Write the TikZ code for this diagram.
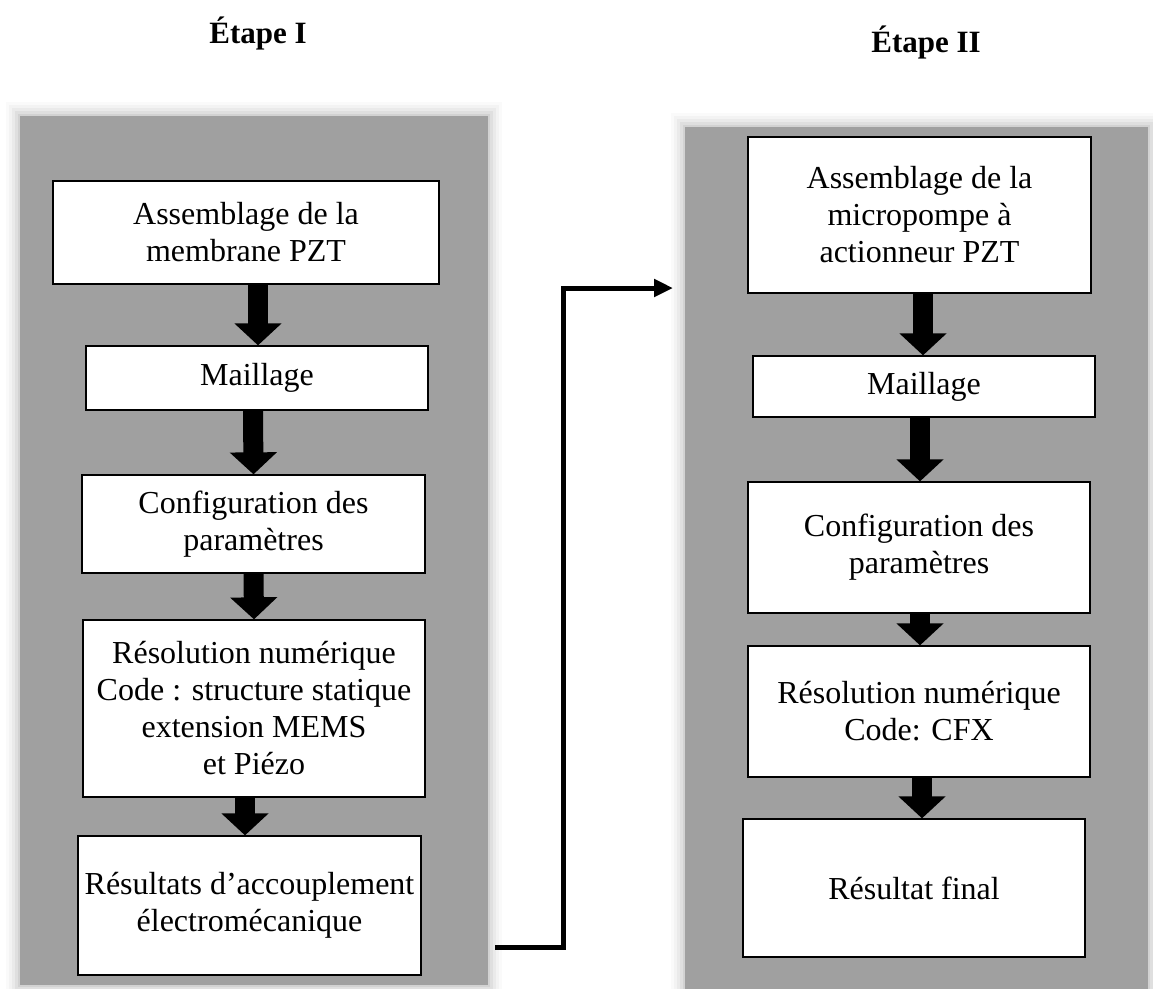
\documentclass[tikz,border=0pt]{standalone}
\usepackage{fontspec}
\setmainfont{Liberation Serif}
\usetikzlibrary{arrows.meta}
\definecolor{panelgray}{RGB}{160,160,160}
\tikzset{
  stepbox/.style={draw=black, line width=1.3pt, fill=white, inner sep=0pt,
    align=center, font=\fontsize{32}{37}\selectfont},
  flow/.style={draw=black, line width=20pt,
    -{Triangle[width=46pt,length=22pt]}},
  link/.style={draw=black, line width=5pt,
    -{Triangle[width=17pt,length=19pt]}},
  steptitle/.style={anchor=base, font=\bfseries\fontsize{31}{34}\selectfont},
}
% soft-edged grey panel: #1 = lower-left corner, #2 = upper-right corner
\newcommand{\softpanel}[2]{%
  \foreach \d/\o in {14/0.05,11/0.07,8/0.1,5/0.14,2/0.2}{
    \fill[panelgray, opacity=\o] ([shift={(-\d,\d)}]#1) rectangle ([shift={(\d,-\d)}]#2);
  }
  \fill[panelgray] (#1) rectangle (#2);
}
\begin{document}
\begin{tikzpicture}[x=1pt, y=-1pt]
  \useasboundingbox (0,0) rectangle (1153,988);
  \fill[white] (0,0) rectangle (1153,988);

  % panels
  \softpanel{20,985}{488,116}
  \softpanel{685,992}{1148,127}

  % titles
  \node[steptitle] (t1) at (258,43) {Étape I};
  \node[steptitle] (t2) at (926,52) {Étape II};

  % stage I
  \node[stepbox, minimum width=386pt, minimum height=103pt] (l1) at (246,232.5)
    {Assemblage de la\\membrane PZT};
  \node[stepbox, minimum width=342pt, minimum height=64pt] (l2) at (257,378)
    {Maillage};
  \node[stepbox, minimum width=343pt, minimum height=98pt] (l3) at (253.5,524)
    {Configuration des\\paramètres};
  \node[stepbox, minimum width=342pt, minimum height=177pt] (l4) at (254,708.5)
    {Résolution numérique\\Code : structure statique\\extension MEMS\\et Piézo};
  \node[stepbox, minimum width=343pt, minimum height=139pt] (l5) at (249.5,905.5)
    {Résultats d'accouplement\\électromécanique};

  \draw[flow] ([xshift=12pt]l1.south) -- ([xshift=1pt]l2.north);
  \draw[flow] ([xshift=-4pt]l2.south) -- (l3.north);
  \draw[flow] (l3.south) -- (l4.north);
  \draw[flow] ([xshift=-9pt]l4.south) -- ([xshift=-4.5pt]l5.north);

  % stage II
  \node[stepbox, minimum width=343pt, minimum height=156pt] (r1) at (919.5,215)
    {Assemblage de la\\micropompe à\\actionneur PZT};
  \node[stepbox, minimum width=342pt, minimum height=61pt] (r2) at (924,386.5)
    {Maillage};
  \node[stepbox, minimum width=342pt, minimum height=131pt] (r3) at (919,547.5)
    {Configuration des\\paramètres};
  \node[stepbox, minimum width=342pt, minimum height=131pt] (r4) at (919,711.5)
    {Résolution numérique\\Code: CFX};
  \node[stepbox, minimum width=342pt, minimum height=138pt] (r5) at (914,888)
    {Résultat final};

  \draw[flow] ([xshift=3.5pt]r1.south) -- ([xshift=-1pt]r2.north);
  \draw[flow] ([xshift=-4pt]r2.south) -- ([xshift=1pt]r3.north);
  \draw[flow] ([xshift=1pt]r3.south) -- ([xshift=1pt]r4.north);
  \draw[flow] ([xshift=3pt]r4.south) -- ([xshift=8pt]r5.north);

  % link from stage I to stage II
  \coordinate (cs) at (495,947);
  \coordinate (cv) at (563,0);
  \coordinate (ce) at (673,288);
  \draw[link] (cs) -- (cs -| cv) |- (ce);
\end{tikzpicture}
\end{document}
